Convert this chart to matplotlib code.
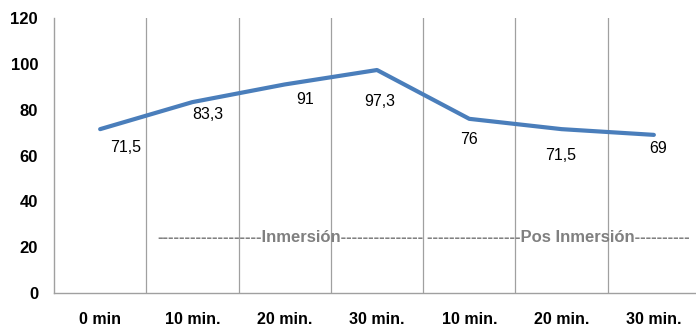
import matplotlib
matplotlib.use("Agg")
import matplotlib.pyplot as plt

plt.rcParams['font.family'] = ['Liberation Sans', 'DejaVu Sans']

categories = ["0 min", "10 min.", "20 min.", "30 min.", "10 min.", "20 min.", "30 min."]
values = [71.5, 83.3, 91, 97.3, 76, 71.5, 69]
value_labels = ["71,5", "83,3", "91", "97,3", "76", "71,5", "69"]
y_ticks = [0, 20, 40, 60, 80, 100, 120]
phase_labels = ["Inmersión", "Pos Inmersión"]

# label offsets in points (dx, dy) relative to each point
label_offsets = [(18, -13), (11, -9), (15, -11), (2, -23), (0, -15), (-1, -19), (3, -10)]

fig = plt.figure(figsize=(6.96, 3.27), dpi=100)
ax = fig.add_axes([54/696, 1-293/327, 646/696, 275/327])

x = list(range(len(categories)))
ax.plot(x, values, color="#4A7EBB", lw=3.0, solid_joinstyle="round", solid_capstyle="round", zorder=3)

for xi, v, lab, (dx, dy) in zip(x, values, value_labels, label_offsets):
    ax.annotate(lab, (xi, v), xytext=(dx, dy), textcoords="offset points",
                ha="center", va="center", fontsize=11.5, color="black")

ax.set_xlim(-0.5, len(categories) - 0.5)
ax.set_ylim(0, 120)
ax.set_yticks(y_ticks)
ax.set_xticks(x)
ax.set_xticklabels(categories, fontsize=11.5, fontweight="bold")
ax.set_yticklabels([str(t) for t in y_ticks], fontsize=12, fontweight="bold")
ax.tick_params(length=0)
ax.tick_params(axis="x", pad=14)
ax.tick_params(axis="y", pad=11.5)

for b in range(1, len(categories)):
    ax.axvline(b - 0.5, color="#A0A0A0", lw=0.9, zorder=1)

for s in ["top", "right"]:
    ax.spines[s].set_visible(False)
for s in ["left", "bottom"]:
    ax.spines[s].set_color("#A0A0A0")
    ax.spines[s].set_linewidth(1.0)

ax.text(0.62, 24, "-" * 19 + phase_labels[0] + "-" * 15, fontsize=12, fontweight="bold",
        color="#808080", ha="left", va="center", zorder=4)
ax.text(3.54, 24, "-" * 17 + phase_labels[1] + "-" * 10, fontsize=12, fontweight="bold",
        color="#808080", ha="left", va="center", zorder=4)

fig.savefig("out.png", dpi=100)
